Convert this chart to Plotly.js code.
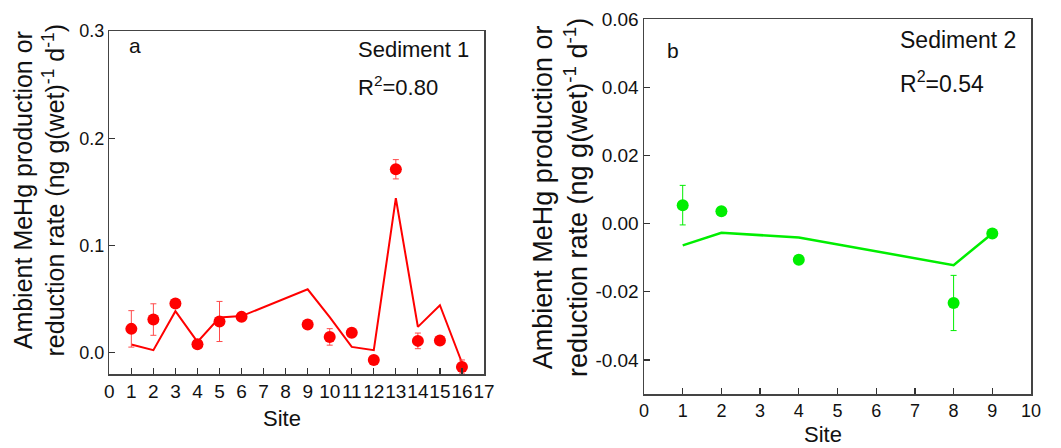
<!DOCTYPE html>
<html>
<head>
<meta charset="utf-8">
<script src="https://cdn.plot.ly/plotly-3.0.1.min.js"></script>
<style>html,body{margin:0;padding:0;background:#fff;}#chart{width:1061px;height:448px;}</style>
</head>
<body>
<div id="chart"></div>
<script>
// ---- Panel a: Sediment 1 ----
const sitesA = [1, 2, 3, 4, 5, 6, 9, 10, 11, 12, 13, 14, 15, 16];
const obsA   = [0.0221, 0.0308, 0.0458, 0.0078, 0.0290, 0.0333, 0.0262, 0.0146, 0.0184, -0.0069, 0.1710, 0.0109, 0.0112, -0.0134];
const errA   = [0.0170, 0.0147, 0.0010, 0.0010, 0.0187, 0.0010, 0.0010, 0.0077, 0.0010, 0.0010, 0.0090, 0.0073, 0.0010, 0.0065];
const modelA = [0.0075, 0.0022, 0.0386, 0.0100, 0.0327, 0.0340, 0.0590, 0.0330, 0.0053, 0.0022, 0.1440, 0.0240, 0.0442, -0.0095];
const yTickValsA = [0, 0.1, 0.2, 0.3];
const yTickTextA = ["0.0", "0.1", "0.2", "0.3"];
const xTicksA = [0,1,2,3,4,5,6,7,8,9,10,11,12,13,14,15,16,17];

// ---- Panel b: Sediment 2 ----
const sitesB = [1, 2, 4, 8, 9];
const obsB   = [0.0054, 0.0036, -0.0106, -0.0233, -0.0029];
const errB   = [0.0058, 0.0004, 0.0004, 0.0081, 0.0004];
const modelB = [-0.0064, -0.0027, -0.0041, -0.0122, -0.0029];
const yTickValsB = [-0.04, -0.02, 0, 0.02, 0.04, 0.06];
const yTickTextB = ["-0.04", "-0.02", "0.00", "0.02", "0.04", "0.06"];
const xTicksB = [0,1,2,3,4,5,6,7,8,9,10];

const FONT = "Liberation Sans, Arial, Helvetica, sans-serif";
const RED = "#ff0000";
const GREEN = "#00ee00";
const W = 1061, H = 448;
const px = v => v / W;
const py = v => (H - v) / H;

const traces = [
  {x: sitesA, y: modelA, type: "scatter", mode: "lines", xaxis: "x", yaxis: "y",
   line: {color: RED, width: 2}, showlegend: false, hoverinfo: "skip"},
  {x: sitesA, y: obsA, type: "scatter", mode: "markers", xaxis: "x", yaxis: "y",
   marker: {color: RED, size: 12},
   error_y: {type: "data", array: errA, visible: true, color: "#ff4a4a", thickness: 1, width: 3},
   showlegend: false},
  {x: sitesB, y: modelB, type: "scatter", mode: "lines", xaxis: "x2", yaxis: "y2",
   line: {color: GREEN, width: 2.5}, showlegend: false, hoverinfo: "skip"},
  {x: sitesB, y: obsB, type: "scatter", mode: "markers", xaxis: "x2", yaxis: "y2",
   marker: {color: GREEN, size: 12},
   error_y: {type: "data", array: errB, visible: true, color: GREEN, thickness: 1, width: 3},
   showlegend: false}
];

const axCommon = {
  showline: true, mirror: true, linecolor: "#444", linewidth: 1.5,
  ticks: "inside", ticklen: 6, tickwidth: 1.2, tickcolor: "#333",
  showgrid: false, zeroline: false, tickfont: {family: FONT, color: "#111"}
};

const layout = {
  width: W, height: H,
  margin: {l: 0, r: 0, t: 0, b: 0},
  paper_bgcolor: "#fff", plot_bgcolor: "#fff",
  font: {family: FONT, color: "#111"},
  showlegend: false,
  xaxis: Object.assign({}, axCommon, {
    domain: [px(109.3), px(484)], range: [0, 17], anchor: "y",
    tickmode: "array", tickvals: xTicksA, ticktext: xTicksA.map(String), tickangle: 0,
    tickfont: {family: FONT, size: 19, color: "#111"}
  }),
  yaxis: Object.assign({}, axCommon, {
    domain: [py(374), py(31)], range: [-0.02, 0.3], anchor: "x",
    tickmode: "array", tickvals: yTickValsA, ticktext: yTickTextA,
    tickfont: {family: FONT, size: 18, color: "#111"}
  }),
  xaxis2: Object.assign({}, axCommon, {
    domain: [px(644), px(1031)], range: [0, 10], anchor: "y2",
    tickmode: "array", tickvals: xTicksB, ticktext: xTicksB.map(String), tickangle: 0,
    tickfont: {family: FONT, size: 18, color: "#111"}
  }),
  yaxis2: Object.assign({}, axCommon, {
    domain: [py(394), py(19)], range: [-0.05, 0.06], anchor: "x2",
    tickmode: "array", tickvals: yTickValsB, ticktext: yTickTextB,
    tickfont: {family: FONT, size: 19, color: "#111"}
  }),
  annotations: [
    {text: "Ambient MeHg production or<br>reduction rate (ng g(wet)<sup>-1</sup> d<sup>-1</sup>)",
     xref: "paper", yref: "paper", x: px(38.5), y: py(190), textangle: -90,
     showarrow: false, xanchor: "center", yanchor: "middle",
     font: {family: FONT, size: 25, color: "#111"}},
    {text: "Ambient MeHg production or<br>reduction rate (ng g(wet)<sup>-1</sup> d<sup>-1</sup>)",
     xref: "paper", yref: "paper", x: px(560.5), y: py(197.5), textangle: -90,
     showarrow: false, xanchor: "center", yanchor: "middle",
     font: {family: FONT, size: 27, color: "#111"}},
    {text: "Site", xref: "paper", yref: "paper", x: px(282), y: py(418),
     showarrow: false, xanchor: "center", yanchor: "middle", font: {family: FONT, size: 22, color: "#111"}},
    {text: "Site", xref: "paper", yref: "paper", x: px(823), y: py(434),
     showarrow: false, xanchor: "center", yanchor: "middle", font: {family: FONT, size: 22, color: "#111"}},
    {text: "a", xref: "paper", yref: "paper", x: px(127), y: py(46),
     showarrow: false, xanchor: "left", yanchor: "middle", font: {family: FONT, size: 21, color: "#111"}},
    {text: "Sediment 1", xref: "paper", yref: "paper", x: px(356), y: py(49),
     showarrow: false, xanchor: "left", yanchor: "middle", font: {family: FONT, size: 22, color: "#111"}},
    {text: "R<sup>2</sup>=0.80", xref: "paper", yref: "paper", x: px(356), y: py(86),
     showarrow: false, xanchor: "left", yanchor: "middle", font: {family: FONT, size: 22, color: "#111"}},
    {text: "b", xref: "paper", yref: "paper", x: px(665), y: py(51),
     showarrow: false, xanchor: "left", yanchor: "middle", font: {family: FONT, size: 21, color: "#111"}},
    {text: "Sediment 2", xref: "paper", yref: "paper", x: px(898), y: py(40),
     showarrow: false, xanchor: "left", yanchor: "middle", font: {family: FONT, size: 23, color: "#111"}},
    {text: "R<sup>2</sup>=0.54", xref: "paper", yref: "paper", x: px(898), y: py(82),
     showarrow: false, xanchor: "left", yanchor: "middle", font: {family: FONT, size: 23, color: "#111"}}
  ]
};

Plotly.newPlot("chart", traces, layout, {staticPlot: true, displayModeBar: false});
</script>
</body>
</html>
